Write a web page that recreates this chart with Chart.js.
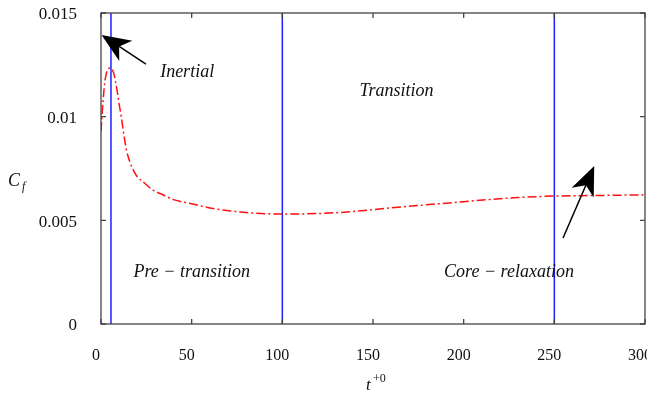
<!doctype html>
<html lang="en">
	<head>
		<meta charset="UTF-8" />
		<title>Cf vs t+0</title>
		<script src="https://cdn.jsdelivr.net/npm/chart.js"></script>
		<style>
			body {
				margin: 0;
				background: #fff;
			}
			#wrap {
				width: 647px;
				height: 395px;
			}
		</style>
	</head>
	<body>
		<div id="wrap"><canvas id="cfChart"></canvas></div>

		<script>
			// time (t+0) and skin friction coefficient
			const tValues = [0, 1, 2, 3, 4, 5, 6, 7, 8, 9, 10, 11, 12, 13, 14, 16, 18, 20, 24, 28, 35, 40, 50, 60, 77, 100, 130, 160, 200, 230, 250, 275, 300]
			const cfValues = [0.0093, 0.0106, 0.0116, 0.0121, 0.0123, 0.01235, 0.0123, 0.0121, 0.0117, 0.0112, 0.0106, 0.0101, 0.0095, 0.0089, 0.0084, 0.0078, 0.0074, 0.0071, 0.0068, 0.0065, 0.0062, 0.006, 0.0058, 0.0056, 0.0054, 0.0053, 0.00537, 0.0056, 0.0059, 0.0061, 0.00617, 0.0062, 0.00623]

			// stage boundaries (blue verticals)
			const stageBounds = [5.5, 100, 250]

			const xTicks = [0, 50, 100, 150, 200, 250, 300]
			const yTicks = [0, 0.005, 0.01, 0.015]

			// region names
			const stageLabels = ['Inertial', 'Transition', 'Pre \u2212 transition', 'Core \u2212 relaxation']
			const stageLabelX = [47.5, 163, 50, 225]
			const stageLabelY = [0.01215, 0.01124, 0.00251, 0.00251]

			const serif = '"Liberation Serif", "DejaVu Serif", serif'

			const curve = tValues.map((t, i) => ({ x: t, y: cfValues[i] }))

			const boundSets = stageBounds.map((b) => ({
				data: [
					{ x: b, y: 0 },
					{ x: b, y: 0.015 }
				],
				showLine: true,
				borderColor: '#2020ff',
				borderWidth: 1.5,
				pointRadius: 0,
				order: 2
			}))

			// frame, inward ticks, axis titles, arrows and texts
			const decorations = {
				id: 'decorations',
				afterDraw(chart) {
					const { ctx, chartArea: a, scales } = chart
					const xs = scales.x
					const ys = scales.y
					ctx.save()

					ctx.strokeStyle = '#444'
					ctx.lineWidth = 1.3
					ctx.strokeRect(a.left, a.top, a.right - a.left, a.bottom - a.top)

					ctx.beginPath()
					xTicks.forEach((v) => {
						const px = xs.getPixelForValue(v)
						ctx.moveTo(px, a.bottom)
						ctx.lineTo(px, a.bottom - 5)
						ctx.moveTo(px, a.top)
						ctx.lineTo(px, a.top + 5)
					})
					yTicks.forEach((v) => {
						const py = ys.getPixelForValue(v)
						ctx.moveTo(a.left, py)
						ctx.lineTo(a.left + 5, py)
						ctx.moveTo(a.right, py)
						ctx.lineTo(a.right - 5, py)
					})
					ctx.stroke()

					// arrows
					function arrow(x0, y0, x1, y1) {
						const sx = xs.getPixelForValue(x0)
						const sy = ys.getPixelForValue(y0)
						const ex = xs.getPixelForValue(x1)
						const ey = ys.getPixelForValue(y1)
						const ang = Math.atan2(ey - sy, ex - sx)
						const len = 29
						const half = 12
						const notch = 21
						const bx = ex - len * Math.cos(ang)
						const by = ey - len * Math.sin(ang)
						ctx.strokeStyle = '#000'
						ctx.lineWidth = 1.5
						ctx.beginPath()
						ctx.moveTo(sx, sy)
						ctx.lineTo(ex - notch * Math.cos(ang), ey - notch * Math.sin(ang))
						ctx.stroke()
						ctx.fillStyle = '#000'
						ctx.beginPath()
						ctx.moveTo(ex, ey)
						ctx.lineTo(bx - half * Math.sin(ang), by + half * Math.cos(ang))
						ctx.lineTo(ex - notch * Math.cos(ang), ey - notch * Math.sin(ang))
						ctx.lineTo(bx + half * Math.sin(ang), by - half * Math.cos(ang))
						ctx.closePath()
						ctx.fill()
					}
					arrow(24.8, 0.01254, 0.3, 0.01394)
					arrow(254.8, 0.00415, 272, 0.00762)

					// region texts
					ctx.fillStyle = '#111'
					ctx.font = 'italic 18px ' + serif
					ctx.textAlign = 'center'
					ctx.textBaseline = 'middle'
					stageLabels.forEach((s, i) => {
						ctx.fillText(s, xs.getPixelForValue(stageLabelX[i]), ys.getPixelForValue(stageLabelY[i]))
					})

					// y title C_f
					ctx.textAlign = 'left'
					ctx.font = 'italic 18px ' + serif
					ctx.fillText('C', 8, 181)
					ctx.font = 'italic 12px ' + serif
					ctx.fillText('f', 22, 187)

					// x title t^+0
					ctx.font = 'italic 17px ' + serif
					ctx.fillText('t', 366, 386)
					ctx.font = '12px ' + serif
					ctx.fillText('+0', 373, 379)

					ctx.restore()
				}
			}

			new Chart(document.getElementById('cfChart'), {
				type: 'scatter',
				data: {
					datasets: [
						...boundSets,
						{
							data: curve,
							showLine: true,
							borderColor: '#ff1010',
							borderWidth: 1.5,
							borderDash: [9, 3, 2, 3],
							pointRadius: 0,
							cubicInterpolationMode: 'monotone',
							order: 1
						}
					]
				},
				options: {
					responsive: true,
					maintainAspectRatio: false,
					animation: false,
					layout: { padding: { top: 13, right: 2, left: 0, bottom: 0 } },
					plugins: {
						legend: { display: false },
						tooltip: { enabled: false }
					},
					scales: {
						x: {
							type: 'linear',
							min: 0,
							max: 300,
							afterBuildTicks: (s) => {
								s.ticks = xTicks.map((v) => ({ value: v }))
							},
							afterFit: (s) => {
								s.height = 71
								s.paddingLeft = 0
								s.paddingRight = 0
							},
							grid: { display: false, drawTicks: false },
							border: { display: false },
							ticks: {
								padding: 22,
								labelOffset: -5,
								color: '#111',
								font: { family: serif, size: 16 }
							}
						},
						y: {
							type: 'linear',
							min: 0,
							max: 0.015,
							afterBuildTicks: (s) => {
								s.ticks = yTicks.map((v) => ({ value: v }))
							},
							afterFit: (s) => {
								s.width = 101
								s.paddingTop = 0
								s.paddingBottom = 0
							},
							grid: { display: false, drawTicks: false },
							border: { display: false },
							ticks: {
								padding: 24,
								labelOffset: 2,
								color: '#111',
								font: { family: serif, size: 17 },
								callback: (v) => String(+v.toFixed(3))
							}
						}
					}
				},
				plugins: [decorations]
			})
		</script>
	</body>
</html>
